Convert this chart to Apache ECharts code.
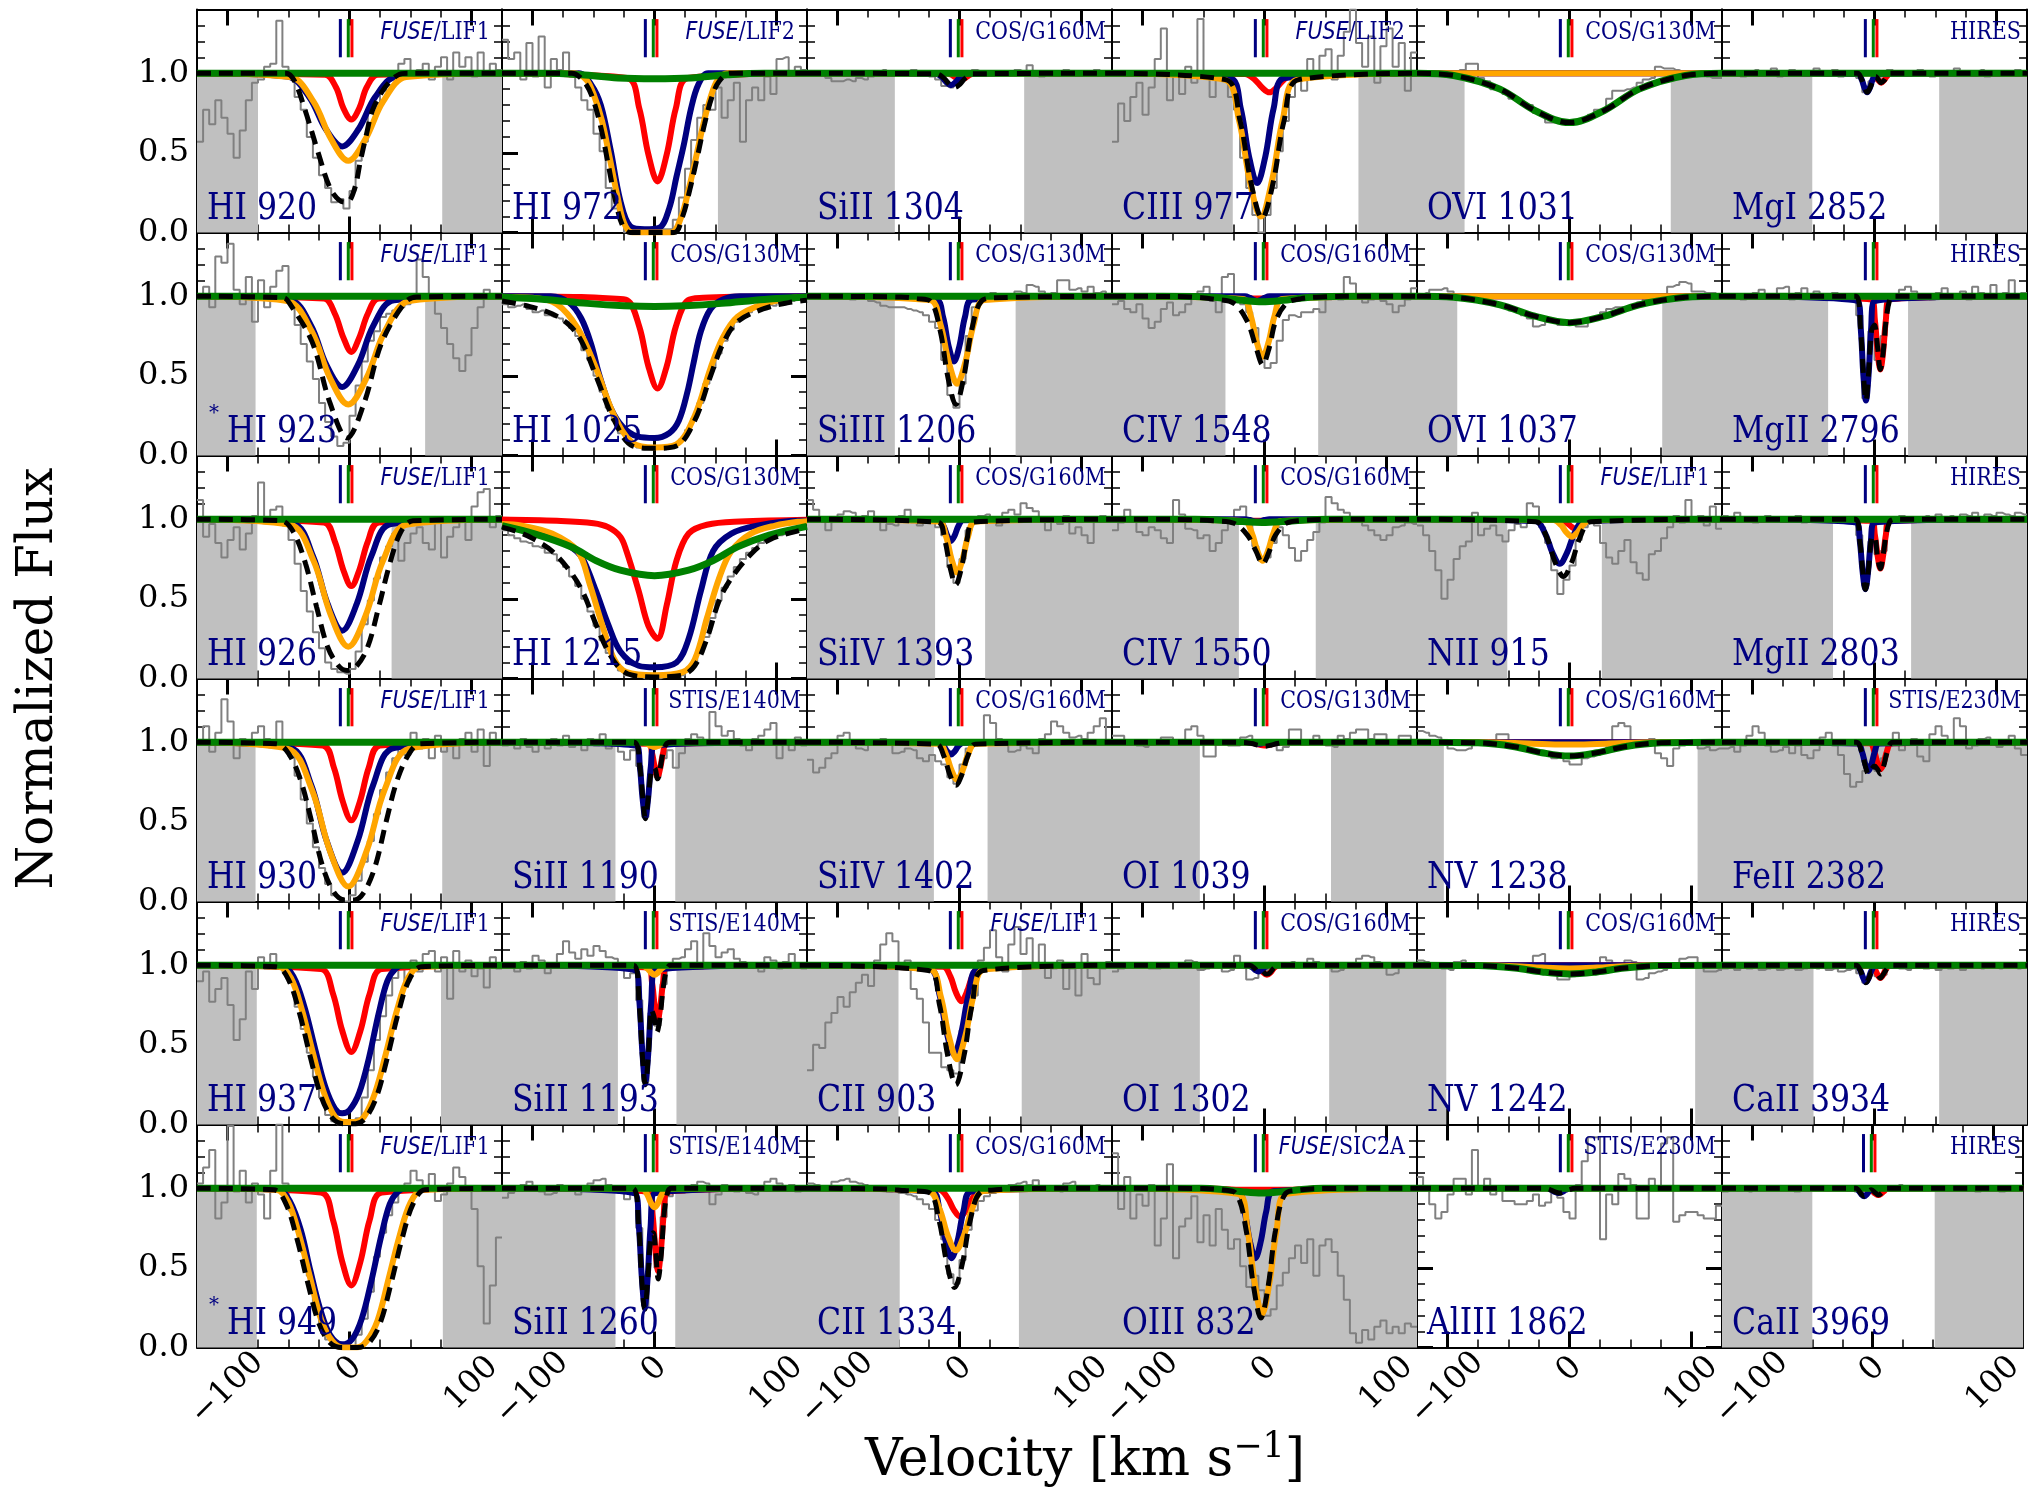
<!DOCTYPE html>
<html>
<head>
<meta charset="utf-8">
<title>Component fits of absorption lines</title>
<script src="https://cdn.jsdelivr.net/npm/echarts@6/dist/echarts.min.js"></script>
<style>
  html, body { margin: 0; padding: 0; background: #fff; }
  #chart { width: 2028px; height: 1488px; }
</style>
</head>
<body>
<div id="chart"></div>
<script>
// ---- panel labels (row by row, 6 columns) ----
const panelLabels = [
  'HI 920', 'HI 972', 'SiII 1304', 'CIII 977', 'OVI 1031', 'MgI 2852',
  'HI 923', 'HI 1025', 'SiIII 1206', 'CIV 1548', 'OVI 1037', 'MgII 2796',
  'HI 926', 'HI 1215', 'SiIV 1393', 'CIV 1550', 'NII 915', 'MgII 2803',
  'HI 930', 'SiII 1190', 'SiIV 1402', 'OI 1039', 'NV 1238', 'FeII 2382',
  'HI 937', 'SiII 1193', 'CII 903', 'OI 1302', 'NV 1242', 'CaII 3934',
  'HI 949', 'SiII 1260', 'CII 1334', 'OIII 832', 'AlIII 1862', 'CaII 3969'
]
const starredPanels = [6, 30]
const instruments = [
  '{it|FUSE}/LIF1', '{it|FUSE}/LIF2', 'COS/G160M', '{it|FUSE}/LIF2', 'COS/G130M', 'HIRES',
  '{it|FUSE}/LIF1', 'COS/G130M', 'COS/G130M', 'COS/G160M', 'COS/G130M', 'HIRES',
  '{it|FUSE}/LIF1', 'COS/G130M', 'COS/G160M', 'COS/G160M', '{it|FUSE}/LIF1', 'HIRES',
  '{it|FUSE}/LIF1', 'STIS/E140M', 'COS/G160M', 'COS/G130M', 'COS/G160M', 'STIS/E230M',
  '{it|FUSE}/LIF1', 'STIS/E140M', '{it|FUSE}/LIF1', 'COS/G160M', 'COS/G160M', 'HIRES',
  '{it|FUSE}/LIF1', 'STIS/E140M', 'COS/G160M', '{it|FUSE}/SIC2A', 'STIS/E230M', 'HIRES'
]

// ---- axes ----
const xMajorTicks = [-100, 0, 100]
const yMajorTicks = [0, 0.5, 1.0]
const markerVel = [-7.5, -1, 2]          // component centroids (km/s)
const markerColors = ['#000080', '#008000', '#ff0000']

// ---- excluded velocity ranges (grey), km/s ----
const shadeRanges = [
  [[-125, -75], [76, 125]], [[52, 125]], [[-125, -53], [53, 125]], [[-125, -26], [77, 125]], [[-125, -86], [83, 125]], [[-125, -51], [53, 125]],
  [[-125, -77], [62, 125]], [], [[-125, -53], [46, 125]], [[-125, -32], [44, 125]], [[-125, -92], [76, 125]], [[-125, -38], [27.5, 125]],
  [[-125, -75.5], [34.5, 125]], [], [[-125, -20], [21, 125]], [[-125, -21], [42, 125]], [[-125, -51], [26.5, 125]], [[-125, -34], [30, 125]],
  [[-125, -77], [76, 125]], [[-125, -32], [17, 125]], [[-125, -21], [23, 125]], [[-125, -53], [54.5, 125]], [[-125, -103], [105, 125]], [[-125, 125]],
  [[-125, -76], [75, 125]], [[-125, -30], [18, 125]], [[-125, -50], [51, 125]], [[-125, -53], [53, 125]], [[-125, -101], [103, 125]], [[-125, -50], [53, 125]],
  [[-125, -76], [76.5, 125]], [[-125, -32], [17, 125]], [[-125, -49], [48.7, 125]], [[-125, 125]], [], [[-125, -50], [51.6, 125]]
]

// ---- observed normalized flux, equal bins across -125..125 km/s ----
const obsFlux = [
  [.57,.77,.68,.83,.72,.62,.47,.64,.83,.94,.96,1.04,1.06,1.33,1.04,.98,.85,.77,.6,.47,.36,.28,.19,.21,.15,.26,.45,.57,.77,.81,.89,.96,.98,1.06,1.09,.98,1.02,1.06,.96,1.04,1.1,.96,1.13,1.04,1.1,.98,1.13,1.0,1.06,1.02],
  [1.21,1.09,1.13,.96,1.19,.98,1.23,.91,1.09,1.02,1.13,.98,.91,.83,.77,.62,.51,.28,.15,.1,0,0,.02,0,0,0,.02,.02,.08,.22,.4,.58,.72,.8,.77,.91,.72,.83,.94,.57,.83,.91,.83,.98,.87,1.09,1.1,1.0,1.04,1.02],
  [1.0,.99,1.01,.97,.95,.95,.96,.95,.97,.96,.98,1.01,1.02,.99,1.0,1.01,1.0,1.02,.99,1.01,.98,.96,.92,.91,.94,.97,1.0,1.02,1.01,.99,1.0,1.01,1.0,.99,1.02,1.01,1.05,1.0,.98,1.01,1.0,.99,1.02,1.0,1.01,.99,1.0,1.02,1.0,1.01],
  [.57,.81,.7,.85,.94,.74,.91,1.09,1.28,.83,1.0,.87,1.04,.94,1.34,.98,.85,1.0,.98,.85,.77,.47,.28,.11,0,.11,.28,.51,.7,.85,.96,.89,1.09,.98,1.11,1.15,.96,1.11,1.26,1.4,1.19,1.04,1.23,.94,1.17,1.28,1.04,1.19,.89,1.13],
  [1.0,.99,1.0,.99,.98,.99,.99,1.02,1.06,1.06,.97,.95,.9,.9,.87,.84,.84,.8,.8,.75,.75,.69,.69,.69,.69,.69,.7,.7,.74,.77,.77,.84,.89,.89,.9,.91,.94,.96,.97,1.04,1.03,1.03,1.02,1.01,1.0,1.0,.99,.98,.97,.97],
  [.99,1.01,1.0,.98,1.01,1.02,.99,1.0,1.03,.98,1.0,1.02,.99,1.01,1.0,1.03,.99,1.0,1.02,.98,1.0,1.01,.97,.88,.95,.96,.99,1.02,1.0,1.01,.99,1.0,1.02,1.0,.98,1.01,1.0,.99,1.03,1.0,.99,1.01,1.02,.98,1.0,1.01,.99,1.0,1.02,1.0],
  [1.01,1.06,.93,1.25,1.21,1.33,1.04,.95,1.12,.84,1.1,.93,1.06,1.16,1.19,1.01,.82,.7,.59,.48,.33,.21,.12,.06,.08,.25,.44,.59,.72,.78,.87,.89,.91,.93,.95,1.01,1.23,1.12,.99,.89,.8,.7,.61,.53,.63,.8,.93,1.04,1.01,1.0],
  [.95,.93,.94,.95,.92,.9,.91,.88,.87,.86,.84,.8,.75,.66,.6,.5,.4,.3,.22,.14,.1,.07,.05,.05,.04,.05,.04,.05,.07,.1,.16,.23,.33,.45,.55,.64,.72,.79,.84,.87,.9,.92,.93,.95,.94,.96,.98,.97,.99,1.0],
  [1.0,.99,1.0,1.01,.99,1.0,1.0,.98,.99,1.0,.97,.96,.94,.93,.93,.93,.92,.91,.9,.88,.84,.8,.6,.38,.3,.45,.75,.93,1.0,1.0,1.02,1.0,.99,1.0,1.03,1.02,1.07,1.06,1.03,1.0,1.02,1.1,1.1,1.04,1.05,1.03,1.06,1.02,1.03,1.01],
  [.95,.97,.92,.9,.95,.86,.8,.84,.92,.96,.88,.9,.95,1.0,1.03,1.06,.97,.9,1.12,1.14,.98,.95,.9,.8,.65,.55,.58,.72,.85,.88,.87,.9,.9,.92,.9,.98,1.0,.98,1.12,1.08,1.0,.96,.98,1.0,.97,.95,.9,.94,.98,1.05],
  [1.01,1.02,1.04,1.04,1.05,1.03,1.01,1.01,.99,.99,.98,.97,.96,.94,.93,.91,.9,.88,.86,.81,.82,.84,.84,.82,.83,.83,.81,.81,.85,.87,.9,.92,.93,.93,.92,.94,.96,.98,1.0,1.01,1.01,1.06,1.07,1.09,1.08,1.03,1.03,1.02,1.02,1.0],
  [.99,1.0,1.01,.98,1.0,1.02,1.04,.99,1.0,1.05,1.06,.98,1.02,1.05,1.0,1.03,.99,1.0,1.02,1.0,.99,.97,.88,.36,.78,.6,.75,.97,1.0,1.04,1.06,1.03,.99,1.01,.98,1.02,1.05,1.0,1.01,1.03,.98,1.06,1.02,1.0,1.07,.99,1.02,1.1,1.0,1.02],
  [1.12,.89,.97,.85,.76,.87,.95,.81,.91,1.02,1.23,1.0,1.06,1.08,.96,.87,.72,.55,.42,.29,.19,.1,.06,.04,.03,.06,.17,.34,.49,.63,.76,.83,.91,.74,.85,.91,.95,.85,.81,1.0,.76,.89,.95,1.0,.87,1.08,1.17,1.19,.95,1.02],
  [.93,.9,.88,.86,.85,.83,.82,.79,.78,.74,.7,.64,.58,.5,.42,.33,.24,.16,.1,.05,.02,.01,.01,0,.01,0,.01,.01,.02,.02,.05,.09,.16,.26,.38,.49,.57,.64,.7,.75,.79,.82,.85,.87,.89,.9,.91,.92,.94,.95],
  [1.12,1.06,1.0,.93,1.01,1.03,1.05,1.04,.99,1.02,1.05,1.0,.93,.97,.96,1.02,1.06,.98,.96,1.0,.98,.95,.9,.7,.6,.75,.93,1.0,1.02,1.03,.98,.96,1.04,1.06,1.03,1.1,1.07,1.05,1.0,.93,.99,.97,1.02,.91,.95,.9,.85,1.0,1.02,1.0],
  [.93,.98,1.06,1.0,.92,.9,.95,.93,.88,.85,1.12,1.03,.94,.93,.88,.9,.8,.85,.93,.98,1.06,1.08,.97,.83,.74,.76,.85,.95,.9,.82,.74,.8,.87,.92,.98,1.14,1.1,1.06,1.04,.99,1.0,.96,.93,.9,.87,.9,.95,.96,.98,.97],
  [.96,.9,.8,.68,.5,.62,.75,.83,.86,1.04,.9,.94,.96,.9,.86,.93,.97,.95,1.1,1.08,.95,.85,.68,.53,.62,.71,.87,.95,1.0,.96,.85,.76,.72,.8,.87,.73,.66,.62,.78,.8,.88,.95,1.02,.98,1.12,1.0,1.02,.96,1.08,.94],
  [1.02,1.0,1.04,.99,1.01,.98,1.0,1.02,.99,1.01,.99,1.0,1.02,.98,1.0,.99,1.01,1.0,.99,1.0,1.01,1.0,.9,.58,.86,.78,.8,.98,1.0,1.02,.99,1.0,1.01,1.02,1.0,1.03,1.01,1.02,1.0,1.03,1.02,1.04,1.01,1.03,1.02,1.04,1.03,1.02,1.04,1.03],
  [1.0,1.1,.94,1.06,1.27,1.13,.9,1.02,.98,1.06,1.1,1.02,.98,1.13,1.0,.91,.79,.64,.49,.34,.21,.11,.04,.02,0,.04,.13,.25,.38,.55,.7,.81,.9,.98,.92,1.06,.96,1.02,.9,1.04,.94,.98,.9,1.02,1.06,.94,1.08,.85,1.06,1.0],
  [.98,.99,.96,1.02,.97,.94,1.0,.96,1.02,.98,1.04,.97,.99,.95,1.02,.98,1.05,.96,.99,.94,.89,.95,.85,.53,.8,.78,.9,.95,.84,.93,1.02,1.05,1.03,1.0,1.19,1.1,1.04,1.07,1.02,.98,.95,1.02,1.04,1.08,1.12,.9,1.0,.95,1.03,.98],
  [.89,.81,.84,.9,.93,1.04,1.06,1.0,.96,.95,.99,1.0,1.02,1.0,.93,.94,.96,.95,.9,.88,.92,.88,.86,.78,.74,.86,.96,.98,1.0,1.17,1.12,1.02,.99,.94,.95,.98,.96,.93,1.02,1.05,1.13,1.1,1.06,1.03,1.04,1.02,1.06,1.1,1.15,1.0],
  [1.04,1.04,1.0,1.0,.98,.97,.99,1.01,1.03,1.03,1.0,.99,1.08,1.1,1.04,.91,.91,1.0,1.01,.98,.98,1.03,1.04,.99,.99,.99,.98,.95,.97,1.08,1.08,1.0,.99,1.04,1.01,.98,.97,1.04,1.02,1.06,1.08,1.08,1.02,1.05,1.05,1.0,.99,1.04,1.04,1.0],
  [1.07,1.06,1.04,1.03,1.0,.96,.95,.95,.96,.99,1.0,1.0,1.01,1.05,1.05,.98,.97,.96,.95,.94,.93,.92,.9,.91,.88,.86,.86,.9,.91,.92,.94,.97,1.1,1.12,1.1,.98,.99,1.0,1.02,.93,.9,.85,.96,.98,1.0,1.0,.96,.97,.95,.96],
  [.96,.97,.94,.98,1.04,1.1,1.06,.98,.94,.95,.97,.93,.98,.92,.9,.95,1.03,1.06,.98,.92,.8,.72,.75,.82,.86,.82,.9,.98,1.06,.95,1.0,1.02,.91,.88,1.05,1.1,1.04,1.0,1.15,1.1,.96,.98,1.02,1.03,.99,.97,1.01,1.04,.96,.92],
  [.9,.96,.77,.85,.92,.75,.53,.66,.96,.85,1.05,.98,1.07,1.0,.96,.89,.74,.6,.45,.3,.17,.06,.02,0,0,0,.04,.17,.34,.53,.68,.81,.92,.98,.9,1.03,.96,1.07,1.09,.96,1.05,.79,1.09,.96,1.03,.93,.98,.86,1.05,.98],
  [.99,1.0,.96,1.02,.98,1.06,1.03,.95,1.0,1.07,1.15,1.08,1.04,1.1,1.06,1.12,1.09,1.05,1.04,.98,.92,.95,.78,.27,.7,.62,.88,1.0,1.04,1.05,1.1,1.15,.98,1.2,1.12,1.05,1.08,1.1,1.04,1.02,.99,1.0,.96,1.05,1.03,.98,1.02,1.07,1.0,.98],
  [.34,.5,.48,.64,.7,.8,.74,.83,.89,.94,.87,1.03,1.13,1.2,1.15,1.0,1.03,.85,.79,.64,.45,.45,.36,.34,.32,.59,.85,.81,1.03,1.11,1.22,1.05,.96,1.13,1.24,1.07,1.17,1.0,1.13,.92,.98,1.03,.85,.98,.81,1.07,.92,.88,.98,1.02],
  [.96,.98,.99,1.0,.99,1.0,.98,.98,1.01,1.0,.99,.99,1.03,1.02,.97,.98,1.0,.99,.96,.97,1.06,.99,.91,.92,.95,.97,.99,1.0,1.01,1.02,1.0,.99,1.04,1.02,.99,1.0,.96,.97,1.0,.99,1.04,1.06,1.05,1.02,1.0,.94,.95,.99,1.0,.99],
  [1.03,1.02,1.0,1.0,.98,.97,1.02,1.03,1.0,.99,.99,1.0,1.01,1.0,.99,.98,1.0,.99,1.01,1.06,1.07,.99,.95,.91,.91,.93,.95,.96,.97,.97,1.05,1.03,.99,1.0,1.03,1.02,.91,.92,.95,.96,.97,1.0,.99,1.04,1.05,1.05,1.0,.96,.96,.97],
  [.98,.99,.97,1.0,.98,.99,.97,.98,1.0,.97,.98,.99,.97,.98,.99,.98,1.0,.97,.98,.96,.97,.98,.95,.89,.95,.93,.94,.99,1.0,.98,.97,.99,1.0,.98,.99,.97,1.01,.98,.99,.97,1.0,.99,.98,1.01,.99,.98,1.0,.99,.98,.99],
  [1.03,1.13,1.24,.81,.91,1.39,.98,1.11,.91,1.03,.96,.81,1.11,1.4,1.03,.86,.75,.6,.45,.28,.15,.05,.01,0,0,.01,.08,.18,.35,.57,.72,.83,.91,.98,1.03,1.11,1.05,.98,1.09,.92,.96,1.03,1.13,1.07,1.0,.87,.51,.15,.39,.69],
  [.94,.97,1.0,1.02,1.04,1.0,.98,.96,.97,1.02,.99,1.0,.96,1.01,1.03,1.05,1.06,1.02,.99,.97,.93,.97,.75,.26,.65,.5,.82,.95,.99,.97,1.0,1.02,1.04,1.03,.9,.96,1.02,1.0,.98,1.01,.97,.96,1.0,1.04,1.06,1.03,1.0,1.02,.98,.99],
  [1.03,1.02,1.01,1.01,1.04,1.05,1.06,1.04,1.03,1.02,1.0,1.01,1.0,.98,.99,.97,.96,.95,.93,.9,.87,.8,.68,.46,.4,.55,.74,.86,.92,.95,.97,.99,1.0,1.02,1.03,1.04,1.02,1.05,1.01,1.0,.99,.98,1.03,1.04,1.0,.99,1.01,1.02,.99,1.0],
  [1.22,.87,1.07,.81,.96,.89,1.02,.64,.81,1.15,.56,.76,.81,.95,.66,.83,.64,.87,.74,.62,.68,.51,.38,.45,.36,.2,.24,.39,.47,.56,.64,.53,.68,.45,.64,.68,.6,.45,.3,.09,.03,.11,.05,.13,.17,.09,.13,.09,.15,.13],
  [1.07,1.0,.9,.81,.85,.96,1.06,1.06,.96,1.24,1.0,1.06,.96,1.0,.92,.92,.9,.9,.92,.96,.89,.91,.98,.94,.85,.81,1.02,1.17,1.32,1.32,.68,.96,.9,1.09,1.06,1.02,.81,.81,1.06,1.0,1.28,1.32,.79,.83,.85,.85,.83,.81,.81,.89],
  [.98,.99,1.0,.99,.98,1.0,.99,1.0,.99,1.01,.99,1.0,.98,1.0,1.01,.99,1.0,.99,1.01,.99,1.0,1.0,.98,.95,.98,.96,.98,1.0,1.01,1.02,1.0,.99,1.0,.99,1.0,1.01,1.0,.99,1.0,1.0,.99,1.0,.98,1.0,.99,1.0,.98,.99,1.0,.99]
]

// ---- model components, [velocity, flux] (empty = no absorption) ----
const redModel = [
  [[-20,.99],[-11,.91],[-5,.78],[1.5,.71],[8,.78],[14,.91],[23,.99]],
  [[-22.5,.97],[-12.5,.78],[-5,.49],[2.5,.32],[10,.49],[17.5,.78],[27.5,.97]],
  [[-11.5,1],[-6.5,.99],[-2.75,.97],[1,.96],[4.75,.97],[8.5,.99],[13.5,1]],
  [[-16,.995],[-8,.96],[-2,.91],[4,.88],[10,.91],[16,.96],[24,.995]],
  [],
  [[-2,1],[1,.98],[3.25,.955],[5.5,.94],[7.75,.955],[10,.98],[13,1]],
  [[-21,.985],[-12,.89],[-5,.74],[1.5,.65],[8,.74],[15,.89],[24,.985]],
  [[-60,.995],[-35,.985],[-22.5,.975],[-12.5,.81],[-5,.56],[2.5,.42],[10,.56],[17.5,.81],[27.5,.975],[40,.99],[65,.997]],
  [],
  [[-75,.999],[-45,.995],[-22,.989],[0,.985],[22,.989],[45,.995],[75,.999]],
  [],
  [[-2.7,.98],[.3,.85],[2.55,.65],[4.8,.54],[7.05,.65],[9.3,.85],[12.3,.98]],
  [[-21,.98],[-12,.86],[-5,.68],[1.5,.58],[8,.68],[15,.86],[24,.98]],
  [[-125,.998],[-80,.99],[-50,.975],[-38,.95],[-28,.89],[-23,.8],[-13,.55],[-5,.33],[2.5,.25],[10,.46],[18,.74],[28,.91],[43,.965],[70,.985],[125,.997]],
  [],
  [[-75,.999],[-45,.997],[-22,.993],[0,.99],[22,.993],[45,.997],[75,.999]],
  [[-7.5,1],[-2.5,.98],[1.25,.955],[5,.94],[8.75,.955],[12.5,.98],[17.5,1]],
  [[-2.7,.99],[.3,.9],[2.55,.77],[4.8,.69],[7.05,.77],[9.3,.9],[12.3,.99]],
  [[-22,.98],[-12.75,.84],[-5.6,.63],[1.5,.51],[8.6,.63],[15.75,.84],[25,.98]],
  [[-5,.99],[-2,.93],[.25,.84],[2.5,.785],[4.75,.84],[7,.93],[10,.99]],
  [],
  [[-15,1],[-9,.994],[-4.5,.985],[0,.98],[4.5,.985],[9,.994],[15,1]],
  [],
  [[-3.75,.993],[-.25,.945],[2.4,.87],[5,.83],[7.6,.87],[10.25,.945],[13.75,.993]],
  [[-23.5,.976],[-13.5,.82],[-6,.59],[1.5,.455],[9,.59],[16.5,.82],[26.5,.976]],
  [[-5,.985],[-2,.89],[.25,.74],[2.5,.653],[4.75,.74],[7,.89],[10,.985]],
  [[-13.5,.99],[-7.5,.93],[-3,.83],[1.5,.774],[6,.83],[10.5,.93],[16.5,.99]],
  [[-8,1],[-4,.985],[-1,.955],[2,.94],[5,.955],[8,.985],[12,1]],
  [],
  [[-2.7,.996],[.3,.974],[2.55,.94],[4.8,.92],[7.05,.94],[9.3,.974],[12.3,.996]],
  [[-23.5,.973],[-13.5,.8],[-6,.54],[1.5,.39],[9,.54],[16.5,.8],[26.5,.973]],
  [[-4.5,.977],[-1.5,.83],[.75,.61],[3,.48],[5.25,.61],[7.5,.83],[10.5,.977]],
  [[-17,.992],[-10,.942],[-4.75,.866],[.5,.823],[5.75,.866],[11,.942],[18,.992]],
  [[-60,.999],[-35,.995],[-15,.99],[0,.99],[15,.99],[35,.995],[60,.999]],
  [],
  [[-2.7,.998],[.3,.98],[2.55,.965],[4.8,.957],[7.05,.965],[9.3,.98],[12.3,.998]]
]

const blueModel = [
  [[-51,.98],[-33,.85],[-19.5,.65],[-6,.54],[7.5,.65],[21,.85],[39,.98]],
  [[-62,1],[-52,.93],[-44,.8],[-36,.52],[-28,.2],[-20,.04],[-8,.02],[4,.03],[12,.15],[18,.35],[24,.55],[30,.78],[36,.93],[44,1]],
  [[-19.5,.997],[-14.5,.976],[-10.75,.943],[-7,.925],[-3.25,.943],[.5,.976],[5.5,.997]],
  [[-28.5,.97],[-19.5,.78],[-12.75,.48],[-6,.31],[.75,.48],[7.5,.78],[16.5,.97]],
  [],
  [[-13.5,.995],[-10.5,.96],[-8.25,.91],[-6,.88],[-3.75,.91],[-1.5,.96],[1.5,.995]],
  [[-48.5,.975],[-31.5,.815],[-19,.57],[-6,.43],[7,.57],[19.5,.815],[36.5,.975]],
  [[-85,1],[-70,.96],[-60,.86],[-52,.7],[-45,.5],[-36,.3],[-26,.18],[-14,.12],[0,.11],[12,.14],[20,.22],[27,.4],[32,.58],[38,.78],[46,.92],[56,.98],[70,1]],
  [[-19.5,.98],[-13.5,.87],[-9,.69],[-4.5,.59],[0,.69],[4.5,.87],[10.5,.98]],
  [[-16,1],[-12,.99],[-9,.977],[-6,.97],[-3,.977],[0,.99],[4,1]],
  [],
  [[-14,.97],[-11.2,.79],[-9.1,.5],[-7,.345],[-4.9,.5],[-2.8,.79],[0,.97]],
  [[-46,.97],[-30,.77],[-18,.47],[-6,.3],[6,.47],[18,.77],[34,.97]],
  [[-125,.96],[-109,.94],[-79,.87],[-64,.8],[-58,.74],[-48,.55],[-38,.34],[-28,.17],[-13,.08],[0,.07],[18,.1],[28,.25],[38,.55],[48,.8],[63,.91],[84,.96],[119,.99],[125,.99]],
  [[-17,.994],[-13,.956],[-10,.897],[-7,.864],[-4,.897],[-1,.956],[3,.994]],
  [[-16,1],[-12,.995],[-9,.988],[-6,.985],[-3,.988],[0,.995],[4,1]],
  [[-28,.988],[-20,.91],[-14,.79],[-8,.72],[-2,.79],[4,.91],[12,.988]],
  [[-15,.98],[-12,.86],[-9.75,.67],[-7.5,.56],[-5.25,.67],[-3,.86],[0,.98]],
  [[-48.5,.964],[-31.5,.734],[-18.75,.381],[-6,.18],[6.75,.381],[19.5,.734],[36.5,.964]],
  [[-15,.979],[-12,.847],[-9.75,.645],[-7.5,.53],[-5.25,.645],[-3,.847],[0,.979]],
  [[-17,.997],[-13,.975],[-10,.942],[-7,.923],[-4,.942],[-1,.975],[3,.997]],
  [[-14,1],[-10,.996],[-7.5,.992],[-5,.99],[-2.5,.992],[0,.996],[4,1]],
  [],
  [[-13.75,.992],[-10.25,.94],[-7.6,.864],[-5,.82],[-2.4,.864],[.25,.94],[3.75,.992]],
  [[-55,.99],[-46,.93],[-37,.74],[-28,.47],[-20,.24],[-12,.1],[-6,.07],[0,.09],[8,.2],[16,.42],[24,.7],[31,.9],[38,.98],[45,1]],
  [[-15.5,.968],[-12.3,.763],[-9.9,.449],[-7.5,.27],[-5.1,.449],[-2.7,.763],[.5,.968]],
  [[-24.5,.975],[-16.5,.818],[-10.5,.577],[-4.5,.44],[1.5,.577],[7.5,.818],[15.5,.975]],
  [[-13.75,.998],[-10.25,.987],[-7.6,.97],[-5,.96],[-2.4,.97],[.25,.987],[3.75,.998]],
  [],
  [[-14.5,.995],[-11.5,.966],[-9.25,.92],[-7,.894],[-4.75,.92],[-2.5,.966],[.5,.995]],
  [[-58,.99],[-49,.92],[-40,.74],[-32,.48],[-24,.24],[-16,.08],[-6,.02],[2,.05],[10,.18],[18,.42],[26,.7],[33,.9],[40,.98],[47,1]],
  [[-16,.967],[-12.8,.76],[-10.4,.441],[-8,.26],[-5.6,.441],[-3.2,.76],[0,.967]],
  [[-22.75,.98],[-16.25,.857],[-11.4,.668],[-6.5,.56],[-1.6,.668],[3.25,.857],[9.75,.98]],
  [[-22.5,.981],[-16.5,.857],[-12,.668],[-7.5,.56],[-3,.668],[1.5,.857],[7.5,.981]],
  [[-19,.999],[-15,.99],[-12,.977],[-9,.97],[-6,.977],[-3,.99],[1,.999]],
  [[-14.5,.998],[-11.5,.984],[-9.25,.962],[-7,.95],[-4.75,.962],[-2.5,.984],[.5,.998]]
]

const orangeModel = [
  [[-48.5,.976],[-29.5,.821],[-15,.585],[-1,.45],[13,.585],[27.5,.821],[46.5,.976]],
  [[-66,1],[-56,.96],[-50,.87],[-43,.7],[-37,.48],[-31,.25],[-25,.06],[-18,0],[0,0],[14,0],[22,.1],[28,.27],[34,.47],[40,.68],[46,.85],[52,.96],[60,1]],
  [],
  [[-33,.96],[-21,.71],[-12,.32],[-3,.1],[6,.32],[15,.71],[27,.96]],
  [],
  [],
  [[-51,.97],[-31,.78],[-16,.487],[-1,.32],[14,.487],[29,.78],[49,.97]],
  [[-125,.995],[-100,.99],[-80,.95],[-63,.8],[-48,.55],[-33,.25],[-18,.08],[0,.05],[18,.07],[33,.25],[46,.55],[56,.74],[68,.87],[89,.95],[114,.99],[125,.995]],
  [[-24.5,.976],[-15.5,.82],[-8.75,.585],[-2,.45],[4.75,.585],[11.5,.82],[20.5,.976]],
  [[-17.75,.983],[-11.25,.877],[-6.4,.713],[-1.5,.62],[3.4,.713],[8.25,.877],[14.75,.983]],
  [],
  [],
  [[-48.5,.965],[-29.5,.74],[-15.25,.396],[-1,.2],[13.25,.396],[27.5,.74],[46.5,.965]],
  [[-125,.97],[-109,.96],[-84,.91],[-63,.8],[-53,.59],[-43,.34],[-33,.12],[-23,.04],[0,.02],[23,.04],[33,.12],[43,.38],[53,.63],[63,.8],[79,.91],[99,.96],[119,.985],[125,.987]],
  [[-17,.985],[-11,.891],[-6.5,.748],[-2,.666],[2.5,.748],[7,.891],[13,.985]],
  [[-16.5,.989],[-10.5,.916],[-6,.804],[-1.5,.74],[3,.804],[7.5,.916],[13.5,.989]],
  [[-13,.995],[-7,.964],[-2.5,.917],[2,.89],[6.5,.917],[11,.964],[17,.995]],
  [],
  [[-51,.96],[-31,.706],[-16,.316],[-1,.094],[14,.316],[29,.706],[49,.96]],
  [[-10,.999],[-6,.99],[-3,.977],[0,.97],[3,.977],[6,.99],[10,.999]],
  [[-17,.99],[-11,.923],[-6.5,.822],[-2,.764],[2.5,.822],[7,.923],[13,.99]],
  [],
  [[-75,.999],[-45,.995],[-22.5,.989],[0,.985],[22.5,.989],[45,.995],[75,.999]],
  [],
  [[-58,.99],[-48,.92],[-39,.72],[-30,.45],[-21,.2],[-12,.05],[-4,.015],[4,.015],[12,.05],[21,.2],[30,.45],[39,.72],[48,.92],[58,.99]],
  [[-10,.997],[-6,.98],[-3,.955],[0,.94],[3,.955],[6,.98],[10,.997]],
  [[-24.5,.974],[-15.5,.808],[-8.75,.555],[-2,.41],[4.75,.555],[11.5,.808],[20.5,.974]],
  [],
  [[-75,.999],[-45,.994],[-22.5,.985],[0,.98],[22.5,.985],[45,.994],[75,.999]],
  [],
  [[-60,.99],[-50,.91],[-41,.7],[-32,.43],[-23,.17],[-14,.04],[-5,0],[6,0],[14,.04],[23,.17],[32,.43],[41,.7],[50,.91],[60,.99]],
  [[-10,.995],[-6,.961],[-3,.909],[0,.88],[3,.909],[6,.961],[10,.995]],
  [[-25.5,.983],[-16.5,.873],[-9.75,.706],[-3,.61],[3.75,.706],[10.5,.873],[19.5,.983]],
  [[-22,.965],[-14,.743],[-8,.404],[-2,.21],[4,.404],[10,.743],[18,.965]],
  [],
  []
]

const greenModel = [
  [],
  [[-90,1],[-60,.99],[-30,.97],[0,.965],[30,.97],[60,.99],[90,1]],
  [], [],
  [[-95,.986],[-57,.9],[-28.5,.766],[0,.69],[28.5,.766],[57,.9],[95,.986]],
  [], [],
  [[-125,.995],[-90,.98],[-55,.955],[-25,.94],[0,.935],[25,.94],[55,.955],[90,.98],[125,.995]],
  [],
  [[-57,.998],[-35,.989],[-18,.974],[-2,.965],[15,.974],[31,.989],[53,.998]],
  [[-95,.993],[-57,.946],[-28.5,.875],[0,.834],[28.5,.875],[57,.946],[95,.993]],
  [], [],
  [[-125,.96],[-99,.91],[-68,.826],[-48,.74],[-28,.68],[0,.645],[28,.68],[48,.74],[68,.826],[94,.9],[125,.955]],
  [],
  [[-57,.999],[-35,.994],[-18,.985],[-2,.98],[15,.985],[31,.994],[53,.999]],
  [], [], [], [], [], [],
  [[-75,.996],[-45,.972],[-22.5,.934],[0,.913],[22.5,.934],[45,.972],[75,.996]],
  [], [], [], [], [],
  [[-75,.998],[-45,.982],[-22.5,.958],[0,.945],[22.5,.958],[45,.982],[75,.998]],
  [], [], [], [],
  [[-52,.999],[-32,.99],[-17,.977],[-2,.97],[13,.977],[28,.99],[48,.999]],
  [], []
]

const totalModel = [
  [[-52,1],[-45,.95],[-36.5,.77],[-26,.51],[-16,.28],[-8,.2],[-2,.19],[4,.27],[9,.45],[14,.62],[19,.77],[29,.91],[40,.99],[48,1]],
  [[-68,1],[-58,.95],[-51,.85],[-44,.66],[-38,.43],[-32,.2],[-26,.04],[-20,0],[16,0],[23,.1],[29,.27],[35,.47],[41,.68],[47,.85],[53,.95],[62,1]],
  [[-19,.996],[-13,.971],[-8.5,.932],[-4,.91],[.5,.932],[5,.971],[11,.996]],
  [[-32,.96],[-20,.7],[-11,.31],[-2,.09],[7,.31],[16,.7],[28,.96]],
  [[-95,.986],[-57,.9],[-28.5,.766],[0,.69],[28.5,.766],[57,.9],[95,.986]],
  [[-14,1],[-10.5,.96],[-8,.91],[-6,.88],[-3.5,.91],[-1,.96],[1,.98],[3.5,.955],[5.5,.94],[8,.955],[10,.98],[13,1]],
  [[-54,.99],[-49.5,.96],[-30.5,.71],[-16,.33],[-2,.11],[12,.33],[26.5,.71],[45.5,.96],[55,.995]],
  [[-125,.97],[-105,.94],[-84,.89],[-70,.82],[-60,.72],[-48,.5],[-33,.22],[-18,.06],[0,.045],[18,.06],[33,.22],[46,.5],[56,.7],[68,.84],[89,.92],[110,.96],[125,.975]],
  [[-48,.995],[-35,.985],[-24,.97],[-15.75,.78],[-9.4,.487],[-3,.32],[3.4,.487],[9.75,.78],[18,.97],[30,.99]],
  [[-90,.999],[-60,.995],[-40,.98],[-25,.955],[-14,.84],[-7,.68],[-1.5,.57],[4,.68],[9,.84],[18,.955],[30,.985],[50,.996],[80,1]],
  [[-95,.993],[-57,.946],[-28.5,.875],[0,.834],[28.5,.875],[57,.946],[95,.993]],
  [[-15,1],[-11.5,.8],[-9,.5],[-7,.345],[-5,.5],[-2.5,.78],[0,.82],[2.5,.68],[4.8,.54],[7,.64],[9.5,.85],[12.5,.98],[15,1]],
  [[-56,.99],[-46,.92],[-36,.72],[-27,.45],[-18,.2],[-9,.08],[-2,.05],[6,.08],[15,.2],[24,.45],[33,.72],[42,.92],[52,.99]],
  [[-125,.95],[-112,.92],[-100,.88],[-84,.8],[-68,.66],[-58,.53],[-48,.34],[-38,.17],[-28,.06],[-18,.02],[0,.01],[22,.02],[33,.08],[43,.25],[53,.49],[63,.63],[79,.78],[94,.87],[119,.93],[125,.94]],
  [[-18,.982],[-12,.867],[-7.5,.69],[-3,.59],[1.5,.69],[6,.867],[12,.982]],
  [[-90,1],[-60,.997],[-40,.99],[-25,.975],[-14,.9],[-7,.8],[-1.5,.72],[4,.8],[9,.9],[18,.975],[30,.992],[50,.998],[80,1]],
  [[-27.5,.984],[-18.5,.883],[-11.75,.728],[-5,.64],[1.75,.728],[8.5,.883],[17.5,.984]],
  [[-16,1],[-12,.86],[-9.5,.66],[-7.5,.56],[-5,.68],[-2.5,.88],[0,.89],[2.5,.76],[4.8,.69],[7,.77],[9.5,.9],[12.5,.985],[16,1]],
  [[-60,.99],[-50,.93],[-40,.76],[-31,.5],[-22,.22],[-13,.06],[-4,.01],[4,.01],[12,.06],[21,.22],[30,.5],[39,.76],[49,.93],[58,.99]],
  [[-17,1],[-12,.84],[-9.5,.64],[-7.5,.52],[-5,.66],[-2.5,.82],[0,.84],[2.5,.77],[5,.85],[7.5,.95],[10.5,.995],[14,1]],
  [[-19,.988],[-12.75,.912],[-7.9,.796],[-3,.73],[1.9,.796],[6.75,.912],[13,.988]],
  [[-17.5,.999],[-10.5,.992],[-5.25,.981],[0,.975],[5.25,.981],[10.5,.992],[17.5,.999]],
  [[-75,.996],[-45,.972],[-22.5,.934],[0,.913],[22.5,.934],[45,.972],[75,.996]],
  [[-15,1],[-10.5,.94],[-7.5,.85],[-5,.8],[-2.5,.83],[0,.85],[2.5,.83],[5,.8],[7.5,.85],[10.5,.94],[15,1]],
  [[-60,.99],[-50,.91],[-41,.7],[-32,.42],[-23,.17],[-14,.04],[-5,.005],[5,.005],[13,.04],[22,.17],[31,.42],[40,.7],[49,.91],[59,.99]],
  [[-17,1],[-12.5,.75],[-10,.44],[-7.5,.25],[-5,.44],[-2.5,.72],[-.5,.68],[2,.58],[4.5,.67],[7,.85],[10,.975],[13,1]],
  [[-25.5,.967],[-16.5,.756],[-9.75,.434],[-3,.25],[3.75,.434],[10.5,.756],[19.5,.967]],
  [[-12,1],[-8,.98],[-5,.96],[-2,.965],[1,.945],[4,.95],[8,.985],[12,1]],
  [[-75,.998],[-45,.982],[-22.5,.958],[0,.945],[22.5,.958],[45,.982],[75,.998]],
  [[-15,1],[-11.5,.965],[-9,.915],[-7,.89],[-4.5,.92],[-2,.96],[0,.96],[2.5,.94],[4.8,.92],[7,.94],[9.5,.97],[12.5,.995],[15,1]],
  [[-62,.99],[-52,.9],[-43,.68],[-34,.4],[-25,.15],[-16,.03],[-6,0],[7,0],[16,.03],[25,.15],[34,.4],[43,.68],[52,.9],[62,.99]],
  [[-18,1],[-13,.76],[-10.5,.43],[-8,.24],[-5.5,.43],[-3,.7],[-1,.72],[1,.6],[3,.43],[5.5,.58],[8,.85],[11,.98],[14,1]],
  [[-60,.995],[-45,.985],[-25,.973],[-16.75,.797],[-10.4,.529],[-4,.376],[2.4,.529],[8.75,.797],[17,.973],[30,.99],[45,.998]],
  [[-50,.998],[-35,.99],[-23,.964],[-15,.735],[-9,.385],[-3,.185],[3,.385],[9,.735],[17,.964],[30,.99],[45,.998]],
  [[-20.5,.999],[-15.5,.99],[-11.75,.977],[-8,.97],[-4.25,.977],[-.5,.99],[4.5,.999]],
  [[-14,1],[-9,.96],[-7,.95],[-4.5,.965],[-1,.99],[2.5,.97],[4.8,.957],[7.5,.97],[11,1]]
]

// ---- layout ----
const VMIN = -125, VMAX = 125, FMIN = 0, FMAX = 1.4
const CONTINUUM = 1.0
const GRID_LEFT = 197, GRID_TOP = 9.5, PW = 305, PH = 223
const NCOL = 6, NROW = 6
const SERIF = 'DejaVu Serif'
const SANS = 'DejaVu Sans'
const NAVY = '#000080'

function withContinuum(arr) {
  if (!arr.length) return [[VMIN, CONTINUUM], [VMAX, CONTINUUM]]
  const pts = arr.slice()
  if (pts[0][0] > VMIN) pts.unshift([VMIN, CONTINUUM])
  if (pts[pts.length - 1][0] < VMAX) pts.push([VMAX, CONTINUUM])
  return pts
}

function binned(flux) {
  const bw = (VMAX - VMIN) / flux.length
  const pts = flux.map((f, i) => [VMIN + (i + 0.5) * bw, f])
  pts.unshift([VMIN, flux[0]])
  pts.push([VMAX, flux[flux.length - 1]])
  return pts
}

const fmtTick = v => String(v).replace('-', '\u2212')

const grids = [], xAxes = [], yAxes = [], series = [], graphics = []

panelLabels.forEach((name, p) => {
  const r = Math.floor(p / NCOL), c = p % NCOL
  const left = GRID_LEFT + c * PW, top = GRID_TOP + r * PH
  grids.push({ left, top, width: PW, height: PH })

  const xi = xAxes.length, yi = yAxes.length
  const xBase = { gridIndex: p, type: 'value', min: VMIN, max: VMAX, splitLine: { show: false }, axisLabel: { show: false } }
  const yBase = { gridIndex: p, type: 'value', min: FMIN, max: FMAX, splitLine: { show: false }, axisLabel: { show: false } }
  const line = { show: true, onZero: false, lineStyle: { color: '#000', width: 2 } }
  const minorTick = { show: true, inside: true, length: 8, lineStyle: { color: '#000', width: 1.5 } }

  ;['bottom', 'top'].forEach(pos => {
    xAxes.push({ ...xBase, position: pos, interval: 25, axisLine: line, axisTick: minorTick })
    xAxes.push({ ...xBase, position: pos, axisLine: { show: false, onZero: false },
      axisTick: { show: true, inside: true, length: 16, customValues: xMajorTicks, lineStyle: { color: '#000', width: 3 } } })
  })
  ;['left', 'right'].forEach(pos => {
    yAxes.push({ ...yBase, position: pos, interval: 0.1, axisLine: line, axisTick: minorTick })
    const showLab = pos === 'left' && c === 0
    yAxes.push({ ...yBase, position: pos, axisLine: { show: false, onZero: false },
      axisTick: { show: true, inside: true, length: 16, customValues: yMajorTicks, lineStyle: { color: '#000', width: 3 } },
      axisLabel: { show: showLab, customValues: yMajorTicks, margin: 8, formatter: v => v.toFixed(1),
        fontFamily: SERIF, fontSize: 32, color: '#000' } })
  })
  // rotated velocity labels on the bottom row, each centred below its tick
  if (r === NROW - 1) {
    xMajorTicks.forEach(v => {
      const margin = v < 0 ? 41 : (v === 0 ? 22 : 36)
      xAxes.push({ ...xBase, position: 'bottom', axisLine: { show: false, onZero: false }, axisTick: { show: false },
        axisLabel: { show: true, customValues: [v], rotate: 45, align: 'center', verticalAlign: 'middle', margin,
          formatter: fmtTick, fontFamily: SERIF, fontSize: 32, color: '#000' } })
    })
  }

  const common = { xAxisIndex: xi, yAxisIndex: yi, silent: true, animation: false }

  series.push({ ...common, type: 'custom', z: 1, data: shadeRanges[p],
    renderItem: (params, api) => {
      const a = api.coord([api.value(0), CONTINUUM])
      const b = api.coord([api.value(1), FMIN])
      return { type: 'rect', shape: { x: a[0], y: a[1], width: b[0] - a[0], height: b[1] - a[1] }, style: { fill: '#c0c0c0' } }
    } })

  series.push({ ...common, type: 'line', z: 2, step: 'middle', symbol: 'none', data: binned(obsFlux[p]),
    lineStyle: { color: '#808080', width: 2 } })

  const comps = [
    [redModel, '#ff0000', 6, 3], [blueModel, NAVY, 6, 4],
    [orangeModel, '#ffa500', 6, 5], [greenModel, '#008000', 7, 6]
  ]
  comps.forEach(([model, color, width, z]) => {
    series.push({ ...common, type: 'line', z, symbol: 'none', smooth: 0.35, data: withContinuum(model[p]),
      lineStyle: { color, width } })
  })
  series.push({ ...common, type: 'line', z: 7, symbol: 'none', smooth: 0.35, data: withContinuum(totalModel[p]),
    lineStyle: { color: '#000', width: 5, type: [14, 8] } })

  series.push({ ...common, type: 'custom', z: 8, data: markerVel.map((v, k) => [v, k]),
    renderItem: (params, api) => {
      const a = api.coord([api.value(0), 1.1])
      const b = api.coord([api.value(0), 1.34])
      return { type: 'line', shape: { x1: a[0], y1: a[1], x2: b[0], y2: b[1] },
        style: { stroke: markerColors[api.value(1)], lineWidth: 3 } }
    } })

  // ion label bottom-left, instrument top-right (condensed lettering)
  const starred = starredPanels.includes(p)
  if (starred) {
    graphics.push({ type: 'text', x: left + 12, y: top + PH - 42, z: 100, silent: true,
      style: { text: '*', fontFamily: SERIF, fontSize: 20, fill: NAVY, align: 'left', verticalAlign: 'middle',
        textAlign: 'left', textVerticalAlign: 'middle' } })
  }
  graphics.push({ type: 'text', x: left + (starred ? 30 : 10), y: top + PH - 4, scaleX: 0.83, z: 100, silent: true,
    style: { text: name, fontFamily: SERIF, fontSize: 38, fill: NAVY, align: 'left', verticalAlign: 'bottom',
      textAlign: 'left', textVerticalAlign: 'bottom' } })
  const instMargin = instruments[p].startsWith('{it') ? 12 : 6
  graphics.push({ type: 'text', x: left + PW - instMargin, y: top + 23, scaleX: 0.86, z: 100, silent: true,
    style: { text: instruments[p], fontFamily: SERIF, fontSize: 24, fill: NAVY, align: 'right', verticalAlign: 'middle',
      textAlign: 'right', textVerticalAlign: 'middle',
      rich: { it: { fontFamily: SANS, fontSize: 24, fontStyle: 'italic', fill: NAVY } } } })
})

graphics.push({ type: 'text', x: 39, y: GRID_TOP + NROW * PH / 2, rotation: Math.PI / 2, silent: true,
  style: { text: 'Normalized Flux', fontFamily: SERIF, fontSize: 50, fill: '#000', align: 'center', verticalAlign: 'middle',
    textAlign: 'center', textVerticalAlign: 'middle' } })
graphics.push({ type: 'text', x: 1085, y: 1461, silent: true,
  style: { text: '{n|Velocity [km s}{s|\u22121}{n|]}', align: 'center', verticalAlign: 'middle',
    textAlign: 'center', textVerticalAlign: 'middle', fontFamily: SERIF, fontSize: 52, fill: '#000',
    rich: {
      n: { fontFamily: SERIF, fontSize: 52, fill: '#000', lineHeight: 62 },
      s: { fontFamily: SERIF, fontSize: 35, fill: '#000', lineHeight: 62, verticalAlign: 'top', padding: [0, 0, 24, 0] }
    } } })

const chart = echarts.init(document.getElementById('chart'), null, { renderer: 'canvas' })
chart.setOption({
  animation: false,
  backgroundColor: '#fff',
  grid: grids,
  xAxis: xAxes,
  yAxis: yAxes,
  series,
  graphic: { elements: graphics }
})
</script>
</body>
</html>
